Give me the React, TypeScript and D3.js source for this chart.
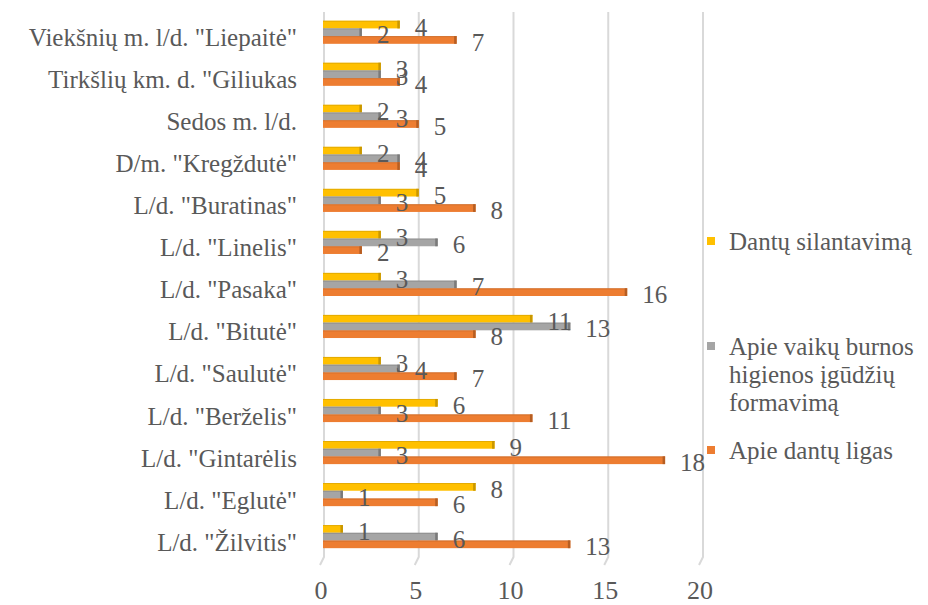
import React from "react";
import * as d3 from "d3";

const categories = [
  'Viekšnių m. l/d. "Liepaitė"',
  'Tirkšlių km. d. "Giliukas',
  "Sedos m. l/d.",
  'D/m. "Kregždutė"',
  'L/d. "Buratinas"',
  'L/d. "Linelis"',
  'L/d. "Pasaka"',
  'L/d. "Bitutė"',
  'L/d. "Saulutė"',
  'L/d. "Berželis"',
  'L/d. "Gintarėlis',
  'L/d. "Eglutė"',
  'L/d. "Žilvitis"',
];

const silantavimas = [4, 3, 2, 2, 5, 3, 3, 11, 3, 6, 9, 8, 1];
const higiena = [2, 3, 3, 4, 3, 6, 7, 13, 4, 3, 3, 1, 6];
const ligos = [7, 4, 5, 4, 8, 2, 16, 8, 7, 11, 18, 6, 13];

const xTicks = [0, 5, 10, 15, 20];

const series = [
  { key: "s", values: silantavimas, color: "#FFC000", side: "#C99700" },
  { key: "h", values: higiena, color: "#A5A5A5", side: "#7A7A7A" },
  { key: "l", values: ligos, color: "#ED7D31", side: "#B65E22" },
];

const legendLines = [
  ["Dantų silantavimą"],
  ["Apie vaikų burnos", "higienos įgūdžių", "formavimą"],
  ["Apie dantų ligas"],
];

export default function App() {
  const W = 928, H = 605;
  const font = "Liberation Serif, Tinos, DejaVu Serif, serif";
  const textColor = "#595959";
  const x = d3.scaleLinear().domain([0, 20]).range([324, 703]);
  const step = 42.03;
  const pad = 0.45;
  const firstTop = 20.7;
  const y0 = firstTop - step * pad;
  const y = d3.scaleBand<string>().domain(categories).range([y0, y0 + step * (categories.length + pad)]).padding(pad);
  const inner = d3.scaleBand<string>().domain(series.map((s) => s.key)).range([0, y.bandwidth()]);
  const gridTop = 12, gridBottom = 557;

  const legendY = [241, 346, 450];

  return (
    <svg width={W} height={H} style={{ position: "absolute", left: 0, top: 0, background: "#fff", fontFamily: font }}>
      <rect width={W} height={H} fill="#fff" />
      {xTicks.map((t) => (
        <path
          key={"g" + t}
          d={`M${x(t)},${gridTop} L${x(t)},${gridBottom} L${x(t) - 4},${gridBottom + 8}`}
          stroke="#D9D9D9"
          strokeWidth={2}
          fill="none"
        />
      ))}
      {xTicks.map((t) => (
        <text key={"t" + t} x={x(t) - 3} y={599} textAnchor="middle" style={{ fontFamily: font }} fontSize={26} fill={textColor}>
          {t}
        </text>
      ))}
      {categories.map((c, i) => {
        const gy = y(c)!;
        return (
          <g key={c}>
            <text x={297} y={gy + y.bandwidth() / 2 + 14} textAnchor="end" style={{ fontFamily: font }} fontSize={25} fill={textColor}>
              {c}
            </text>
            {series.map((s) => {
              const by = gy + inner(s.key)!;
              const bh = inner.bandwidth();
              const v = s.values[i];
              const x0 = x(0) - 1;
              const x1 = x(v);
              return (
                <g key={s.key}>
                  <rect x={x0} y={by} width={x1 - x0} height={bh} fill={s.color} />
                  <rect x={x0} y={by} width={x1 - x0} height={1} fill={s.side} opacity={0.5} />
                  <rect x={x1 - 2.5} y={by} width={2.5} height={bh} fill={s.side} />
                </g>
              );
            })}
            {series.map((s) => {
              const by = gy + inner(s.key)!;
              const bh = inner.bandwidth();
              const v = s.values[i];
              return (
                <text key={"l" + s.key} x={x(v) + 15} y={by + bh / 2 + 11} style={{ fontFamily: font }} fontSize={25} fill={textColor}>
                  {v}
                </text>
              );
            })}
          </g>
        );
      })}
      {series.map((s, k) => (
        <g key={"leg" + s.key}>
          <rect x={707} y={legendY[k] - 4} width={8} height={8} fill={s.color} />
          {legendLines[k].map((ln, j) => (
            <text key={j} x={729} y={legendY[k] + 9 + j * 28} style={{ fontFamily: font }} fontSize={25} fill={textColor}>
              {ln}
            </text>
          ))}
        </g>
      ))}
    </svg>
  );
}
